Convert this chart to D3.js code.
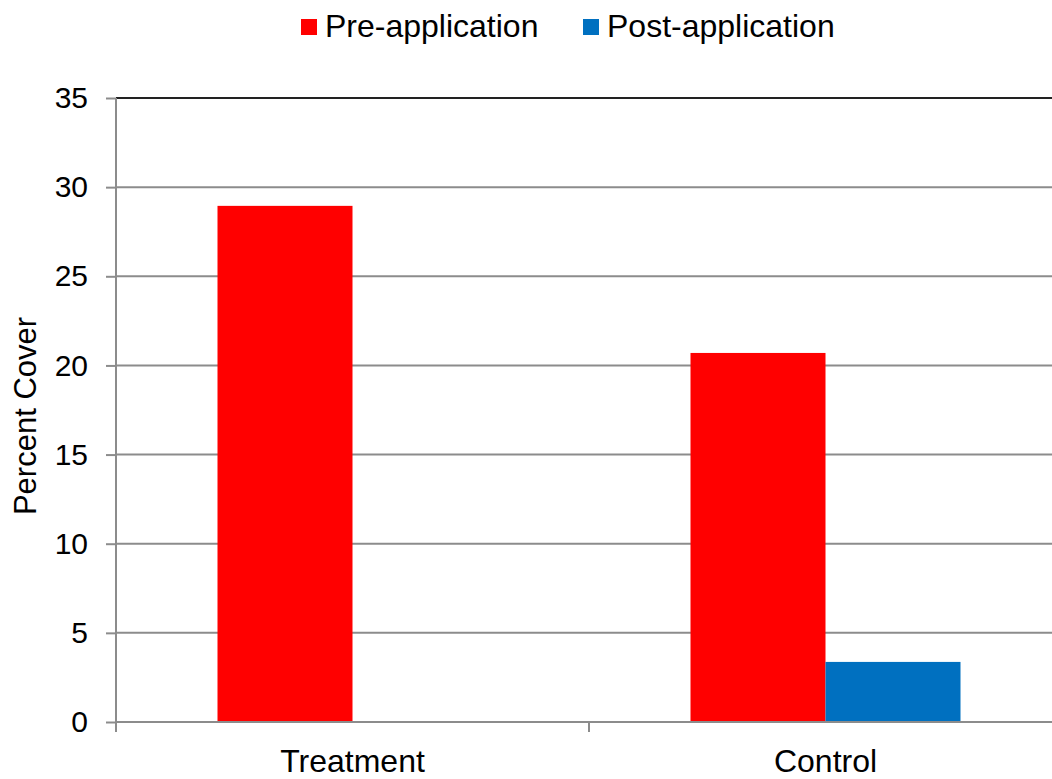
<!DOCTYPE html>
<html><head><meta charset="utf-8">
<script src="https://cdn.jsdelivr.net/npm/d3@7"></script>
<style>body{margin:0;background:#fff}svg{display:block}text{font-family:"Liberation Sans",Arial,sans-serif}</style>
</head><body>
<svg id="c" width="1052" height="779"></svg>
<script>
const categories = ["Treatment", "Control"];
const seriesNames = ["Pre-application", "Post-application"];
const preValues = [28.95, 20.7];
const postValues = [0, 3.37];
const seriesColors = ["#ff0000", "#0070c0"];
const yTicks = [0, 5, 10, 15, 20, 25, 30, 35];

(function () {
const svg = d3.select("#c");
const pLeft = 116, pRight = 1062, pTop = 98, pBottom = 722;
const x = d3.scaleBand().domain(categories).range([pLeft, pRight]);
const inner = d3.scaleBand().domain(seriesNames).range([0, 270]);
const y = d3.scaleLinear().domain([0, 35]).range([pBottom, pTop]);

// gridlines
svg.append("g").selectAll("line").data(yTicks.filter(d => d > 0)).join("line")
  .attr("x1", pLeft).attr("x2", 1052).attr("y1", d => y(d)).attr("y2", d => y(d))
  .attr("stroke", d => d === 35 ? "#222" : "#8c8c8c").attr("stroke-width", 2);

// bars
const data = categories.map((c, i) => ({c, vals: [preValues[i], postValues[i]]}));
const g = svg.append("g");
data.forEach(d => {
  d.vals.forEach((v, j) => {
    if (v <= 0) return;
    g.append("rect")
      .attr("x", x(d.c) + x.bandwidth() / 2 - 135 + inner(seriesNames[j]))
      .attr("width", inner.bandwidth())
      .attr("y", y(v)).attr("height", y(0) - y(v))
      .attr("fill", seriesColors[j]);
  });
});

// y axis
const yAxis = d3.axisLeft(y).tickValues(yTicks).tickSize(10).tickPadding(18);
const ya = svg.append("g").attr("transform", `translate(${pLeft},0)`).call(yAxis);
ya.select(".domain").attr("stroke", "#8c8c8c").attr("stroke-width", 2).attr("d", `M0,${pBottom + 10}V${pTop}`);
ya.selectAll(".tick line").attr("stroke", "#8c8c8c").attr("stroke-width", 2);
ya.selectAll(".tick text").attr("font-size", 30).attr("fill", "#000").attr("font-family", '"Liberation Sans",Arial,sans-serif');

// x axis
svg.append("line").attr("x1", pLeft).attr("x2", 1052).attr("y1", pBottom).attr("y2", pBottom)
  .attr("stroke", "#8c8c8c").attr("stroke-width", 2);
const bounds = [pLeft, pLeft + x.step()];
svg.append("g").selectAll("line").data(bounds).join("line")
  .attr("x1", d => d).attr("x2", d => d).attr("y1", pBottom).attr("y2", pBottom + 10)
  .attr("stroke", "#8c8c8c").attr("stroke-width", 2);
svg.append("g").selectAll("text").data(categories).join("text")
  .attr("x", d => x(d) + x.bandwidth() / 2).attr("y", 772)
  .attr("text-anchor", "middle").attr("font-size", 32).attr("fill", "#000").text(d => d);

// y title
svg.append("text").attr("transform", "translate(36,416) rotate(-90)")
  .attr("text-anchor", "middle").attr("font-size", 31).attr("fill", "#000").text("Percent Cover");

// legend
const legX = [301, 583];
const lg = svg.append("g").selectAll("g").data(seriesNames).join("g")
  .attr("transform", (d, i) => `translate(${legX[i]},0)`);
lg.append("rect").attr("x", 0).attr("y", 19).attr("width", 16).attr("height", 16)
  .attr("fill", (d, i) => seriesColors[i]);
lg.append("text").attr("x", 24).attr("y", 37).attr("font-size", 32).attr("fill", "#000").text(d => d);
})();
</script>
</body></html>
